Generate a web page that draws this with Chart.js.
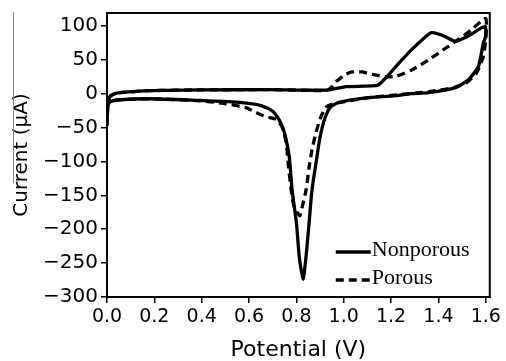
<!DOCTYPE html>
<html><head><meta charset="utf-8">
<script src="https://cdn.jsdelivr.net/npm/chart.js@4"></script>
<style>html,body{margin:0;padding:0;background:#fff}#wrap{width:506px;height:361px;position:relative}</style>
</head><body><div id="wrap"><canvas id="c" width="506" height="361"></canvas></div>
<script>
const xTicks = [0.0, 0.2, 0.4, 0.6, 0.8, 1.0, 1.2, 1.4, 1.6];
const yTicks = [-300, -250, -200, -150, -100, -50, 0, 50, 100];
const seriesNames = ['Nonporous', 'Porous'];
const xTitle = 'Potential (V)';
const yTitle = 'Current (\u03bcA)';

const nonporousV = [0, 0.004, 0.013, 0.034, 0.055, 0.18, 0.4, 0.686, 0.93, 1.01, 1.085, 1.136, 1.148, 1.185, 1.22, 1.287, 1.346, 1.371, 1.40, 1.43, 1.472, 1.514, 1.55, 1.581, 1.598,
  1.600, 1.59, 1.569, 1.527, 1.472, 1.359, 1.287, 1.22, 1.077, 0.98, 0.946, 0.925, 0.909, 0.896, 0.887, 0.866, 0.854, 0.841, 0.833, 0.829, 0.823, 0.812, 0.8, 0.782, 0.77, 0.758, 0.749, 0.735, 0.719, 0.7, 0.677, 0.635, 0.53, 0.391, 0.18, 0.055, 0.013, 0];
const nonporousI = [-47, -16, -4, 0, 1.5, 4.4, 5.5, 5.9, 5.2, 10.3, 11, 11.8, 13.3, 26, 40, 65, 84, 90, 88, 84, 77, 83, 90, 97, 99,
  85, 75, 40, 20.7, 8.9, 1.5, 0, -3, -7, -13, -19, -32, -50, -72, -93, -142, -190, -240, -265, -274, -265, -240, -190, -142, -93, -70, -57, -44, -34, -26, -21, -16, -12, -10, -7.5, -9, -12, -18];

const porousV = [0, 0.004, 0.013, 0.034, 0.055, 0.18, 0.4, 0.686, 0.9, 0.93, 0.95, 0.967, 0.98, 1.0, 1.035, 1.077, 1.127, 1.178, 1.22, 1.287, 1.359, 1.43, 1.485, 1.54, 1.581, 1.6,
  1.603, 1.6, 1.59, 1.56, 1.518, 1.464, 1.359, 1.232, 1.106, 1.0, 0.946, 0.925, 0.904, 0.883, 0.866, 0.854, 0.841, 0.824, 0.815, 0.803, 0.79, 0.778, 0.766, 0.757, 0.74, 0.715, 0.673, 0.631, 0.589, 0.505, 0.391, 0.18, 0.055, 0.013, 0];
const porousI = [-47, -16, -4, 0, 1.5, 4.4, 5.5, 5.9, 4.5, 5, 10, 17.7, 21, 27, 32, 32, 28, 25, 25.5, 35, 50, 67, 80, 94.5, 107, 111,
  100, 80, 55, 30, 16, 9, 3, -1.5, -6, -12, -16, -20, -34, -57, -83, -108, -142, -168, -180, -175, -167, -142, -105, -72, -49, -38, -34, -28, -21, -15, -10.5, -7.5, -9, -12, -18];

const toPts = (xs, ys) => xs.map((x, i) => ({x: x, y: ys[i]}));

const framePlugin = {
  id: 'frame',
  afterDatasetsDraw(chart) {
    const {ctx, chartArea: a} = chart;
    ctx.save();
    ctx.strokeStyle = '#000';
    ctx.lineWidth = 2;
    ctx.strokeRect(a.left, a.top, a.right - a.left, a.bottom - a.top);
    ctx.restore();
  },
  afterDraw(chart) {
    const {ctx, chartArea: a} = chart;
    ctx.save();
    ctx.strokeStyle = '#888';
    ctx.lineWidth = 1;
    ctx.beginPath();
    ctx.moveTo(13.5, 12);
    ctx.lineTo(13.5, 183);
    ctx.stroke();
    const x0 = a.right - 154, x1 = a.right - 119;
    const rows = [a.bottom - 45, a.bottom - 17];
    chart.data.datasets.forEach((ds, i) => {
      const y = rows[i];
      ctx.strokeStyle = '#000';
      ctx.lineWidth = 3.3;
      ctx.setLineDash(ds.borderDash || []);
      ctx.beginPath();
      ctx.moveTo(x0, y);
      ctx.lineTo(x1, y);
      ctx.stroke();
      ctx.setLineDash([]);
      ctx.fillStyle = '#000';
      ctx.font = '22px "Liberation Serif", "Times New Roman", serif';
      ctx.textBaseline = 'alphabetic';
      ctx.textAlign = 'left';
      ctx.fillText(ds.label, x1 + 1, y + 4);
    });
    ctx.restore();
  }
};

new Chart(document.getElementById('c'), {
  type: 'scatter',
  data: {
    datasets: [
      {label: seriesNames[0], data: toPts(nonporousV, nonporousI), showLine: true, borderColor: '#000', borderWidth: 3.3, pointRadius: 0, tension: 0.2, fill: false},
      {label: seriesNames[1], data: toPts(porousV, porousI), showLine: true, borderColor: '#000', borderWidth: 3.3, borderDash: [8, 5], pointRadius: 0, tension: 0.2, fill: false}
    ]
  },
  options: {
    responsive: false,
    animation: false,
    devicePixelRatio: 1,
    layout: {padding: {top: 13, right: 14, left: 0, bottom: 0}},
    plugins: {legend: {display: false}, tooltip: {enabled: false}},
    scales: {
      x: {
        type: 'linear', min: 0, max: 1.617,
        afterBuildTicks: s => { s.ticks = xTicks.map(v => ({value: v})); },
        afterFit: s => { s.height = 64; },
        ticks: {color: '#000', padding: 5, font: {family: '"DejaVu Sans"', size: 19, lineHeight: 1}, callback: v => Number(v).toFixed(1), maxRotation: 0, autoSkip: false},
        grid: {display: true, drawOnChartArea: false, drawTicks: true, tickLength: 6, color: '#000', lineWidth: 1.5},
        border: {display: true, color: '#000', width: 2},
        title: {display: true, text: xTitle, color: '#000', font: {family: '"DejaVu Sans"', size: 22, lineHeight: 1}, padding: {top: 0, bottom: 0}}
      },
      y: {
        type: 'linear', min: -300, max: 119,
        afterBuildTicks: s => { s.ticks = yTicks.map(v => ({value: v})); },
        afterFit: s => { s.width = 107; },
        ticks: {color: '#000', padding: 3, font: {family: '"DejaVu Sans"', size: 20, lineHeight: 1}, callback: v => String(v).replace('-', '\u2212'), autoSkip: false},
        grid: {display: true, drawOnChartArea: false, drawTicks: true, tickLength: 6, color: '#000', lineWidth: 1.5},
        border: {display: true, color: '#000', width: 2},
        title: {display: true, text: yTitle, color: '#000', font: {family: '"DejaVu Sans"', size: 20, lineHeight: 1.2}, padding: {top: 10, bottom: 0}}
      }
    }
  },
  plugins: [framePlugin]
});
</script>
</body></html>
